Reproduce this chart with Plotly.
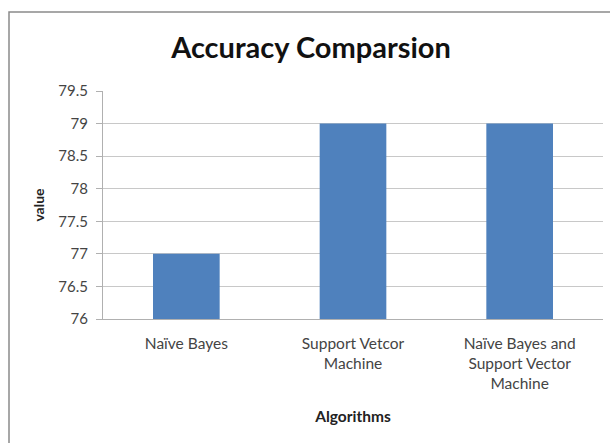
import plotly.graph_objects as go

categories = ["Naïve Bayes", "Support Vetcor<br>Machine", "Naïve Bayes and<br>Support Vector<br>Machine"]
values = [77, 79, 79]
y_ticks = [76, 76.5, 77, 77.5, 78, 78.5, 79, 79.5]
y_tick_labels = ["76", "76.5", "77", "77.5", "78", "78.5", "79", "79.5"]

FONT = "Lato, 'Open Sans', sans-serif"

fig = go.Figure(go.Bar(x=categories, y=values, marker_color="#4F81BD", marker_line_width=0))

L, R, T, B = 103, 7, 91, 124
W, H = 610, 443
pw, ph = W - L - R, H - T - B

def px_to_paper_x(px):
    return (px - L) / pw

def px_to_paper_y(py):
    return 1 - (py - T) / ph

fig.update_layout(
    width=W, height=H,
    margin=dict(l=L, r=R, t=T, b=B),
    paper_bgcolor="white", plot_bgcolor="white",
    bargap=0.6,
    showlegend=False,
    title=dict(text="<b>Accuracy Comparsion</b>", x=311 / W, xanchor="center",
               y=1 - 48 / H, yanchor="middle",
               font=dict(family=FONT, size=29, color="#111")),
    font=dict(family=FONT, color="#333"),
    shapes=[dict(type="rect", xref="paper", yref="paper",
                 x0=px_to_paper_x(9), x1=px_to_paper_x(640),
                 y0=px_to_paper_y(470), y1=px_to_paper_y(12),
                 line=dict(color="#8a8a8a", width=1.5), layer="below")],
)
fig.update_yaxes(range=[76, 79.5], tickvals=y_ticks, ticktext=y_tick_labels,
                 showgrid=True, gridcolor="#c8c8c8", gridwidth=1,
                 showline=True, linecolor="#b0b0b0", ticks="outside", ticklen=6,
                 tickcolor="#b0b0b0", tickfont=dict(size=15, color="#444"),
                 ticklabelstandoff=5,
                 title=dict(text="<b>value</b>", font=dict(size=14, color="#222"), standoff=10),
                 zeroline=False)
fig.update_xaxes(showline=True, linecolor="#b0b0b0", ticks="",
                 tickfont=dict(size=15.5, color="#444"),
                 ticklabelstandoff=10,
                 title=dict(text="<b>Algorithms</b>", font=dict(size=15.5, color="#222"), standoff=20))

fig.write_html("out.html")
